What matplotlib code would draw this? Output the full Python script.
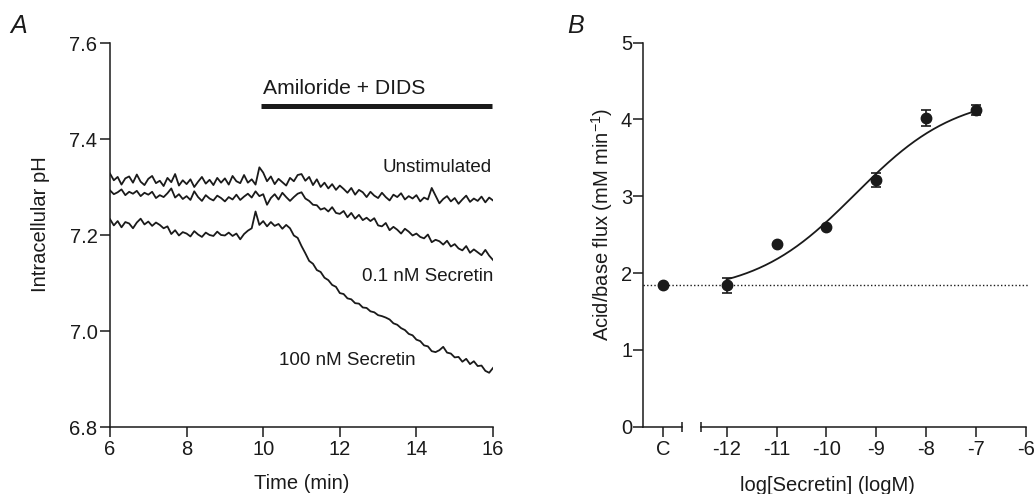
import numpy as np
import matplotlib
matplotlib.use("Agg")
from matplotlib import pyplot as plt

plt.rcParams['font.family'] = ['Liberation Sans', 'DejaVu Sans']
plt.rcParams['axes.unicode_minus'] = False
plt.rcParams['mathtext.fontset'] = 'custom'
plt.rcParams['mathtext.rm'] = 'Liberation Sans'
plt.rcParams['mathtext.it'] = 'Liberation Sans:italic'

# ---- panel A: intracellular pH traces, one sample every 0.1 min (6..16 min)
time_min = np.round(np.arange(6.0, 16.01, 0.1), 1)

ph_unstim = [
    7.328, 7.314, 7.321, 7.305, 7.318, 7.322, 7.309, 7.326, 7.311, 7.304,
    7.317, 7.323, 7.308, 7.313, 7.302, 7.319, 7.310, 7.327, 7.303, 7.314,
    7.306, 7.316, 7.300, 7.311, 7.321, 7.307, 7.315, 7.304, 7.319, 7.309,
    7.318, 7.305, 7.323, 7.312, 7.308, 7.325, 7.309, 7.316, 7.305, 7.341,
    7.330, 7.312, 7.322, 7.306, 7.317, 7.310, 7.303, 7.319, 7.312, 7.325,
    7.327, 7.313, 7.321, 7.304, 7.316, 7.300, 7.309, 7.297, 7.306, 7.294,
    7.303, 7.296, 7.288, 7.298, 7.284, 7.294, 7.289, 7.279, 7.290, 7.282,
    7.277, 7.288, 7.279, 7.272, 7.284, 7.279, 7.287, 7.274, 7.281, 7.276,
    7.283, 7.270, 7.278, 7.274, 7.298, 7.282, 7.266, 7.275, 7.281, 7.270,
    7.277, 7.265, 7.274, 7.282, 7.269, 7.276, 7.271, 7.280, 7.268, 7.278,
    7.272]

ph_sec01 = [
    7.293, 7.285, 7.289, 7.295, 7.283, 7.290, 7.286, 7.292, 7.281, 7.288,
    7.284, 7.290, 7.277, 7.283, 7.279, 7.287, 7.297, 7.278, 7.285, 7.275,
    7.281, 7.273, 7.291, 7.279, 7.271, 7.283, 7.276, 7.272, 7.282, 7.277,
    7.270, 7.279, 7.274, 7.284, 7.273, 7.280, 7.286, 7.278, 7.291, 7.281,
    7.285, 7.263, 7.277, 7.285, 7.274, 7.288, 7.279, 7.271, 7.279, 7.286,
    7.289, 7.276, 7.271, 7.263, 7.262, 7.253, 7.256, 7.249, 7.258, 7.246,
    7.244, 7.250, 7.237, 7.246, 7.234, 7.242, 7.231, 7.236, 7.229, 7.235,
    7.220, 7.218, 7.225, 7.210, 7.217, 7.211, 7.203, 7.213, 7.207, 7.199,
    7.203, 7.196, 7.193, 7.201, 7.185, 7.190, 7.187, 7.180, 7.188, 7.176,
    7.181, 7.172, 7.168, 7.177, 7.163, 7.170, 7.164, 7.158, 7.169, 7.157,
    7.148]

ph_sec100 = [
    7.233, 7.220, 7.229, 7.216, 7.227, 7.224, 7.214, 7.226, 7.234, 7.222,
    7.228, 7.219, 7.226, 7.221, 7.214, 7.218, 7.202, 7.210, 7.199, 7.206,
    7.203, 7.197, 7.208, 7.201, 7.196, 7.205, 7.200, 7.198, 7.207, 7.200,
    7.199, 7.205, 7.198, 7.203, 7.191, 7.202, 7.209, 7.214, 7.249, 7.221,
    7.229, 7.218, 7.227, 7.219, 7.223, 7.213, 7.221, 7.214, 7.199, 7.194,
    7.177, 7.162, 7.146, 7.140, 7.127, 7.123, 7.111, 7.106, 7.096, 7.092,
    7.079, 7.077, 7.068, 7.066, 7.058, 7.057, 7.049, 7.048, 7.041, 7.039,
    7.033, 7.031, 7.028, 7.024, 7.016, 7.013, 7.006, 7.002, 6.994, 6.991,
    6.982, 6.979, 6.970, 6.968, 6.958, 6.956, 6.960, 6.967, 6.955, 6.953,
    6.945, 6.946, 6.936, 6.942, 6.931, 6.937, 6.927, 6.928, 6.917, 6.913,
    6.923]

drug_on, drug_off = 9.93, 15.97

# ---- panel B: dose response
log_conc = [-12, -11, -10, -9, -8, -7]
flux = [1.84, 2.375, 2.60, 3.21, 4.02, 4.13]
flux_err = [0.10, 0.0, 0.0, 0.09, 0.10, 0.065]
control_flux = 1.84
# fitted sigmoid (bottom, top, logEC50, Hill slope)
fit_bottom, fit_top, fit_logec50, fit_hill = 1.73, 4.33, -9.42, 0.43

x_ticks_b = [-13.28, -12, -11, -10, -9, -8, -7, -6]
x_labels_b = ['C', '-12', '-11', '-10', '-9', '-8', '-7', '-6']

ink = '#1a1a1a'
W, H = 1035, 494
fig = plt.figure(figsize=(W / 100, H / 100), dpi=100)

def style(ax, ypad):
    for s in ('top', 'right'):
        ax.spines[s].set_visible(False)
    for s in ('left', 'bottom'):
        ax.spines[s].set_linewidth(1.1)
        ax.spines[s].set_color(ink)
    ax.tick_params(direction='out', length=7, width=1.1, colors=ink,
                   labelsize=14.5)
    ax.tick_params(axis='y', pad=ypad)
    ax.tick_params(axis='x', pad=2.5)

# Panel A
axA = fig.add_axes([110 / W, 1 - 427 / H, 383 / W, 384 / H])
style(axA, 2)
for trace in (ph_unstim, ph_sec01, ph_sec100):
    axA.plot(time_min, trace, color=ink, lw=1.3)
axA.plot([drug_on, drug_off], [7.468, 7.468], color=ink, lw=3.6,
         solid_capstyle='butt')
axA.text(10.0, 7.506, 'Amiloride + DIDS', fontsize=15.2, ha='left',
         va='center', color=ink)
axA.text(15.97, 7.340, 'Unstimulated', fontsize=13.5, ha='right',
         va='center', color=ink)
axA.text(16.0, 7.114, '0.1 nM Secretin', fontsize=13.5, ha='right',
         va='center', color=ink)
axA.text(10.42, 6.939, '100 nM Secretin', fontsize=13.5, ha='left',
         va='center', color=ink)
axA.set_xlim(6, 16)
axA.set_ylim(6.8, 7.6)
axA.set_xticks([6, 8, 10, 12, 14, 16])
axA.set_yticks([6.8, 7.0, 7.2, 7.4, 7.6])
axA.set_yticklabels(['6.8', '7.0', '7.2', '7.4', '7.6'])

# Panel B
axB = fig.add_axes([643.3 / W, 1 - 426.7 / H, 382.7 / W, 384 / H])
style(axB, 1)
axB.spines['bottom'].set_visible(False)
xmin_b = -13.67
axB.set_xlim(xmin_b, -6)
axB.set_ylim(0, 5)
axB.set_yticks([0, 1, 2, 3, 4, 5])
axB.set_xticks(x_ticks_b)
axB.set_xticklabels(x_labels_b)

# broken x axis
axB.plot([xmin_b, -12.89], [0, 0], color=ink, lw=1.1, clip_on=False)
axB.plot([-12.51, -6], [0, 0], color=ink, lw=1.1, clip_on=False)
axB.plot([-12.89, -12.51], [0, 0], ls='none', marker='|', ms=6.5, mew=1.1,
         color=ink, clip_on=False)

axB.plot([xmin_b, -5.95], [control_flux, control_flux], color=ink, lw=1.0,
         ls=(0, (1, 1.6)), clip_on=False)
xs = np.linspace(-12, -7, 200)
ys = fit_bottom + (fit_top - fit_bottom) / (1 + 10 ** ((fit_logec50 - xs) * fit_hill))
axB.plot(xs, ys, color=ink, lw=1.3)
axB.errorbar(log_conc, flux, yerr=flux_err, fmt='o', color=ink, ms=7.5,
             capsize=3.6, elinewidth=1.2, capthick=1.2, zorder=5)
axB.plot([x_ticks_b[0]], [control_flux], 'o', color=ink, ms=7.5, zorder=5)

# labels
fig.text(10 / W, 1 - 33 / H, 'A', fontsize=18, style='italic', ha='left',
         va='baseline', color=ink)
fig.text(567 / W, 1 - 33 / H, 'B', fontsize=18, style='italic', ha='left',
         va='baseline', color=ink)
fig.text(40 / W, 1 - 224 / H, 'Intracellular pH', rotation=90, fontsize=14.5,
         ha='center', va='center', color=ink)
fig.text(601.7 / W, 1 - 224 / H, r'Acid/base flux (mM min$^{-1}$)',
         rotation=90, fontsize=14.5, ha='center', va='center', color=ink)
fig.text(302 / W, 1 - 483 / H, 'Time (min)', fontsize=14.5, ha='center',
         va='center', color=ink)
fig.text(827.5 / W, 1 - 485 / H, 'log[Secretin] (logM)', fontsize=14.5,
         ha='center', va='center', color=ink)

fig.savefig('out.png', dpi=100)
